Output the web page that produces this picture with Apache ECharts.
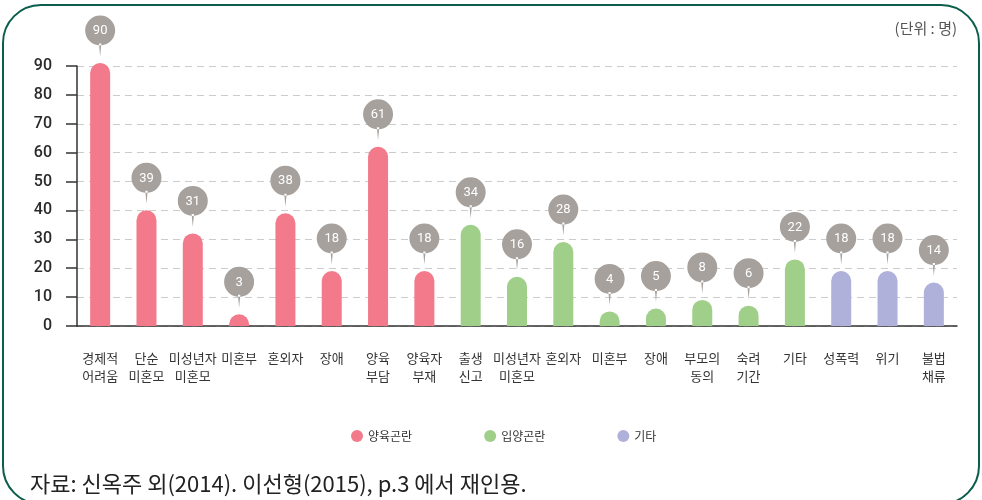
<!DOCTYPE html>
<html>
<head>
<meta charset="utf-8">
<style>
  html, body { margin: 0; padding: 0; background: #fff; }
  #chart { width: 982px; height: 500px; }
</style>
<script src="https://cdn.jsdelivr.net/npm/echarts@6/dist/echarts.min.js"></script>
</head>
<body>
<div id="chart"></div>
<script>
// 카테고리
var categories = [
  '경제적\n어려움', '단순\n미혼모', '미성년자\n미혼모', '미혼부', '혼외자', '장애', '양육\n부담', '양육자\n부재',
  '출생\n신고', '미성년자\n미혼모', '혼외자', '미혼부', '장애', '부모의\n동의', '숙려\n기간', '기타',
  '성폭력', '위기', '불법\n채류'
]
// 양육곤란 / 입양곤란 / 기타
var parenting = [90, 39, 31, 3, 38, 18, 61, 18]
var adoption = [34, 16, 28, 4, 5, 8, 6, 22]
var others = [18, 18, 14]
var seriesNames = ['양육곤란', '입양곤란', '기타']
var yTicks = [0, 10, 20, 30, 40, 50, 60, 70, 80, 90]

var colors = ['#f27a8b', '#a0cf8a', '#afb1da']

var allValues = parenting.concat(adoption, others)

// 핀 모양 (원 + 꼬리)
var pinPath = 'path://M15,0 A15,15 0 1,1 14.99,0 Z M13.8,28 L15,41 L16.2,28 Z'

var chart = echarts.init(document.getElementById('chart'))

// 둥근 머리 막대 (머리가 값보다 살짝 위로 나옴)
function barSeries(name, values, start, color) {
  return {
    name: name,
    type: 'custom',
    itemStyle: { color: color },
    encode: { x: 0, y: 1 },
    data: values.map(function(v, k) { return [start + k, v] }),
    renderItem: function(params, api) {
      var top = api.coord([api.value(0), api.value(1)])
      var base = api.coord([api.value(0), 0])
      return {
        type: 'rect',
        shape: { x: top[0] - 10, y: top[1] - 3, width: 20, height: base[1] - top[1] + 3, r: [10, 10, 0, 0] },
        style: { fill: api.visual('color') }
      }
    }
  }
}

chart.setOption({
  animation: false,
  color: colors,
  textStyle: { fontFamily: 'Noto Sans CJK KR' },
  grid: { left: 77, right: 25, top: 66, bottom: 174 },
  legend: {
    data: seriesNames.map(function(n) { return { name: n, icon: 'circle' } }),
    left: 346,
    top: 425,
    itemWidth: 12,
    itemHeight: 12,
    itemGap: 72,
    textStyle: { fontSize: 12, color: '#333', fontFamily: 'Noto Sans CJK KR' }
  },
  graphic: [
    {
      type: 'rect',
      shape: { x: 3, y: 5, width: 976, height: 499, r: 38 },
      style: { fill: 'none', stroke: '#0b5e4b', lineWidth: 2 },
      silent: true
    },
    {
      type: 'text',
      right: 25,
      top: 21,
      style: { text: '(단위 : 명)', fontSize: 15, fill: '#555', fontFamily: 'Noto Sans CJK KR' }
    },
    {
      type: 'text',
      left: 30,
      top: 473,
      style: {
        text: '자료: 신옥주 외(2014). 이선형(2015), p.3 에서 재인용.',
        fontSize: 22, fill: '#222', fontFamily: 'Noto Sans CJK KR'
      }
    }
  ],
  xAxis: {
    type: 'category',
    data: categories,
    axisLine: { lineStyle: { color: '#333', width: 1.5 } },
    axisTick: { length: 11, lineStyle: { color: '#333', width: 1.5 } },
    axisLabel: {
      interval: 0,
      margin: 23,
      fontSize: 13,
      lineHeight: 18,
      color: '#333',
      fontFamily: 'Noto Sans CJK KR'
    }
  },
  yAxis: {
    type: 'value',
    min: yTicks[0],
    max: yTicks[yTicks.length - 1],
    interval: 10,
    axisLine: { show: true, lineStyle: { color: '#333', width: 1.5 } },
    axisTick: { show: true, length: 11, lineStyle: { color: '#333', width: 1.5 } },
    axisLabel: { margin: 25, fontSize: 16, fontWeight: 500, color: '#2a2a2a', fontFamily: 'Roboto' },
    splitLine: { lineStyle: { color: '#ccc', type: [7, 5], width: 1.2 } }
  },
  series: [
    barSeries(seriesNames[0], parenting, 0, colors[0]),
    barSeries(seriesNames[1], adoption, parenting.length, colors[1]),
    barSeries(seriesNames[2], others, parenting.length + adoption.length, colors[2]),
    {
      // 값 표시 핀
      type: 'scatter',
      data: allValues,
      symbol: pinPath,
      symbolSize: [30, 41],
      symbolOffset: [0, -30],
      itemStyle: { color: '#a7a19d', opacity: 1 },
      z: 5,
      silent: true,
      label: {
        show: true,
        position: 'inside',
        offset: [0, -5],
        color: '#fff',
        fontSize: 13,
        fontFamily: 'Roboto'
      }
    }
  ]
})
</script>
</body>
</html>
